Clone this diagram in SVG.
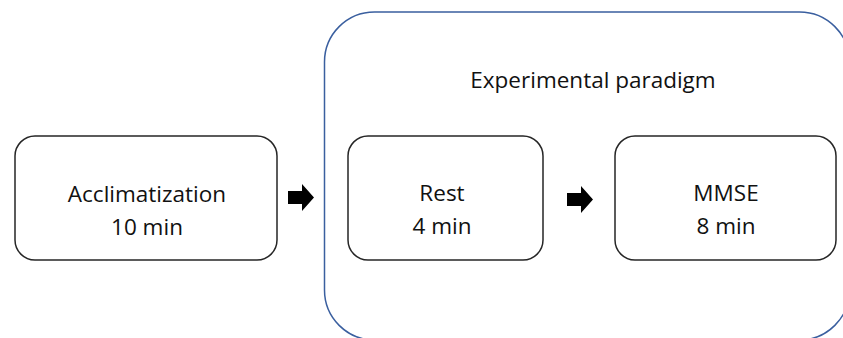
<svg xmlns="http://www.w3.org/2000/svg" width="843" height="338" viewBox="0 0 843 338">
<style>
.box{fill:#fff;stroke:#262626;stroke-width:1.5}
.cont{fill:none;stroke:#3a5f9f;stroke-width:1.5}
text{font-family:"Open Sans","Noto Sans",sans-serif;font-size:22.5px;fill:#111;text-anchor:middle}
.arr{fill:#000}
</style>
<rect width="843" height="338" fill="#fff"/>
<g id="paradigm">
<rect class="cont" x="324.5" y="12" width="525" height="328" rx="50"/>
<text x="593" y="88">Experimental paradigm</text>
</g>
<g id="acclimatization">
<rect class="box" x="15" y="136" width="262" height="124" rx="20"/>
<text x="147" y="202">Acclimatization</text>
<text x="147" y="235">10 min</text>
</g>
<g id="rest">
<rect class="box" x="348" y="136" width="195" height="124" rx="20"/>
<text x="442" y="201">Rest</text>
<text x="442" y="234">4 min</text>
</g>
<g id="mmse">
<rect class="box" x="615" y="136" width="221" height="124" rx="20"/>
<text x="726" y="201">MMSE</text>
<text x="726" y="234">8 min</text>
</g>
<g id="connectors">
<path class="arr" d="M288,191 H302 V184 L314,197.5 L302,211 V204 H288 Z"/>
<path class="arr" d="M567,193 H581 V186 L593,199.5 L581,213 V206 H567 Z"/>
</g>
</svg>
